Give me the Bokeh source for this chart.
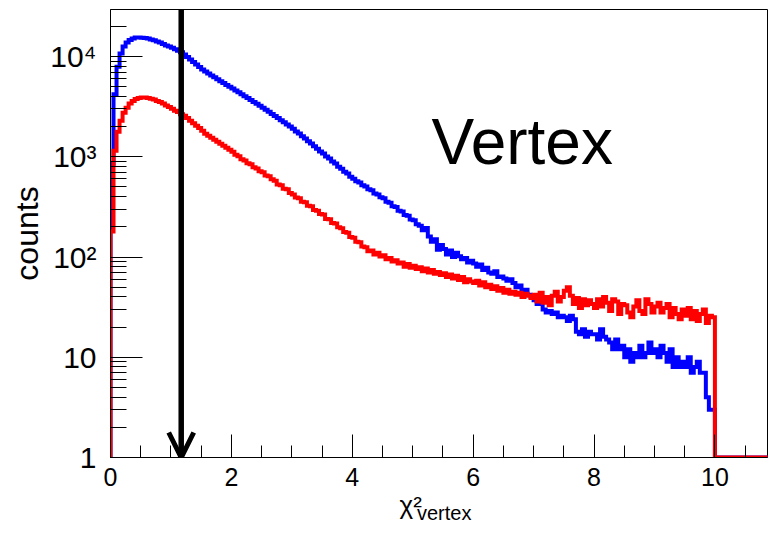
import math
from bokeh.plotting import figure
from bokeh.models import (Range1d, SingleIntervalTicker, LogTicker, Label, Arrow,
                          OpenHead, CustomJSTickFormatter, Title)
from bokeh.embed import file_html
from bokeh.resources import INLINE

# ---------------- data ----------------
bin_width = 0.05          # histogram bins from 0 to 10
blue_counts = [
    850, 4200, 7900, 10700, 12600, 13800, 14600, 15100, 15500, 15500,
    15400, 15300, 15100, 14800, 14500, 14100, 13800, 13300, 12900, 12600,
    12200, 11800, 11400, 11000, 10500, 9900, 9350, 8800, 8300, 7850,
    7400, 7080, 6780, 6480, 6200, 5940, 5680, 5440, 5200, 4980,
    4790, 4580, 4390, 4200, 4020, 3850, 3680, 3520, 3370, 3230,
    3090, 2945, 2805, 2675, 2550, 2430, 2315, 2205, 2100, 2000,
    1905, 1790, 1710, 1600, 1520, 1425, 1355, 1270, 1205, 1130,
    1075, 1005, 960, 895, 855, 795, 760, 710, 680, 630,
    605, 570, 555, 520, 505, 475, 462, 430, 420, 395,
    385, 355, 348, 320, 315, 290, 285, 262, 258, 236,
    232, 212, 205, 185, 195, 160, 142, 150, 118, 132,
    120, 106, 116, 100, 110, 102, 95, 98, 88, 92,
    86, 80, 84, 74, 78, 70, 68, 72, 63, 64,
    61, 58, 60, 55, 50, 52, 46, 47, 42, 40,
    37, 34, 35, 30, 28, 29, 27, 28, 25, 26,
    25, 23, 26, 24, 18, 17, 19, 16, 18, 17,
    17, 15, 19, 16, 15, 14, 12, 15, 12, 13,
    10, 12, 9, 11, 10, 13, 10, 11, 14, 11,
    12, 10, 13, 11, 9, 12, 8, 10, 8, 9,
    8, 10, 7, 8, 9, 7, 7, 4, 3, 3,
]
red_counts = [
    180, 1150, 1780, 2290, 2750, 3090, 3390, 3590, 3760, 3850,
    3890, 3890, 3850, 3800, 3720, 3590, 3510, 3390, 3240, 3130,
    3020, 2880, 2790, 2660, 2570, 2430, 2290, 2160, 2040, 1930,
    1820, 1700, 1620, 1550, 1480, 1410, 1350, 1290, 1230, 1175,
    1120, 1050, 1010, 945, 920, 860, 840, 785, 765, 715,
    700, 650, 640, 595, 575, 530, 520, 480, 475, 435,
    420, 392, 385, 355, 352, 325, 320, 295, 290, 268,
    265, 240, 238, 218, 216, 198, 194, 178, 175, 158,
    156, 142, 140, 127, 125, 114, 116, 106, 110, 101,
    104, 95, 98, 90, 93, 86, 88, 80, 85, 78,
    82, 76, 79, 72, 77, 70, 74, 68, 71, 66,
    69, 63, 67, 61, 65, 59, 63, 56, 60, 57,
    55, 58, 52, 56, 50, 53, 48, 51, 46, 49,
    44, 47, 43, 45, 42, 44, 40, 43, 41, 39,
    42, 36, 44, 35, 40, 33, 41, 45, 36, 40,
    46, 50, 41, 34, 39, 31, 38, 33, 37, 34,
    31, 38, 32, 40, 35, 29, 38, 36, 27, 34,
    33, 28, 25, 32, 37, 29, 27, 38, 34, 28,
    32, 35, 28, 31, 34, 25, 31, 27, 24, 30,
    26, 31, 24, 29, 23, 27, 30, 22, 26, 25,
]
empty_bins_after = 18     # bins above 10 are empty
cut_value = 1.17          # position of the cut arrow
title_text = "Vertex"
y_title = "counts"
x_title_main = "\u03c7\u00b2"
x_title_sub = "vertex"

# ---------------- layout ----------------
W, H = 773, 534
FL, FR, FT, FB = 110, 6, 9, 77
FW, FH = W - FL - FR, H - FT - FB
X0, X1 = 0.0, 10.87
Y0 = 1.0
Y1 = 10 ** (FH / 100.25)
FONT = "Liberation Sans"


def dx(px):
    return X0 + (px - FL) / FW * (X1 - X0)


def dy(py):
    return 10 ** ((FT + FH - py) / FH * math.log10(Y1 / Y0))


p = figure(width=W, height=H, x_range=Range1d(X0, X1), y_range=Range1d(Y0, Y1),
           y_axis_type="log", output_backend="svg", toolbar_location=None,
           min_border_left=FL, min_border_right=FR, min_border_top=FT,
           min_border_bottom=FB)
p.background_fill_color = "white"
p.border_fill_color = "white"
p.outline_line_color = "black"
p.outline_line_width = 1
p.xgrid.visible = False
p.ygrid.visible = False

xa = p.xaxis[0]
xa.ticker = SingleIntervalTicker(interval=2, num_minor_ticks=4)
xa.major_tick_in, xa.major_tick_out = 23, 0
xa.minor_tick_in, xa.minor_tick_out = 12, 0
xa.axis_line_color = "black"
xa.major_tick_line_color = "black"
xa.minor_tick_line_color = "black"
xa.major_label_text_font = FONT
xa.major_label_text_font_size = "25px"
xa.major_label_text_color = "black"
xa.major_label_standoff = 10

ya = p.yaxis[0]
ya.ticker = LogTicker(num_minor_ticks=10)
ya.major_tick_in, ya.major_tick_out = 32, 0
ya.minor_tick_in, ya.minor_tick_out = 16, 0
ya.axis_line_color = "black"
ya.major_tick_line_color = "black"
ya.minor_tick_line_color = "black"
ya.formatter = CustomJSTickFormatter(code="""
const e = Math.round(Math.log10(tick));
const sup = ["\u2070", "\u00b9", "\u00b2", "\u00b3", "\u2074", "\u2075", "\u2076"];
if (e === 0) return "1";
if (e === 1) return "10";
return "10" + sup[e];
""")
ya.major_label_text_font = FONT
ya.major_label_text_font_size = "30px"
ya.major_label_text_color = "black"
ya.major_label_standoff = 14
ya.axis_label = y_title
ya.axis_label_text_font = FONT
ya.axis_label_text_font_size = "32px"
ya.axis_label_text_font_style = "normal"
ya.axis_label_text_color = "black"
ya.axis_label_standoff = 2


def step_path(counts):
    vals = list(counts) + [0] * empty_bins_after
    xs, ys = [0.0], [Y0]
    for i, c in enumerate(vals):
        v = max(c, Y0)
        xs += [i * bin_width, (i + 1) * bin_width]
        ys += [v, v]
    xs.append(len(vals) * bin_width)
    ys.append(Y0)
    return xs, ys


bx, by = step_path(blue_counts)
rx, ry = step_path(red_counts)
p.line(bx, by, line_color="#0000ff", line_width=4, line_join="miter")
p.line(rx, ry, line_color="#ff0000", line_width=4, line_join="miter")

# cut arrow
p.add_layout(Arrow(end=OpenHead(size=25, line_width=5, line_color="black"),
                   x_start=cut_value, y_start=dy(0), x_end=cut_value, y_end=dy(457),
                   line_width=5.5, line_color="black"))

# big text
p.add_layout(Label(x=dx(431), y=dy(141.7), text=title_text, text_font=FONT,
                   text_font_size="64px", text_color="black",
                   text_align="left", text_baseline="alphabetic"))

# x-axis title pieces, placed in the panel below the axis
p.add_layout(Title(text=x_title_main, align="left", offset=399 - FL, standoff=3,
                   vertical_align="top", text_font=FONT, text_font_size="26px",
                   text_font_style="normal", text_color="black"), "below")
p.add_layout(Title(text=x_title_sub, align="left", offset=416.5 - FL, standoff=-43,
                   vertical_align="top", text_font=FONT, text_font_size="20px",
                   text_font_style="normal", text_color="black"), "below")

open("out.html", "w").write(file_html(p, INLINE))
